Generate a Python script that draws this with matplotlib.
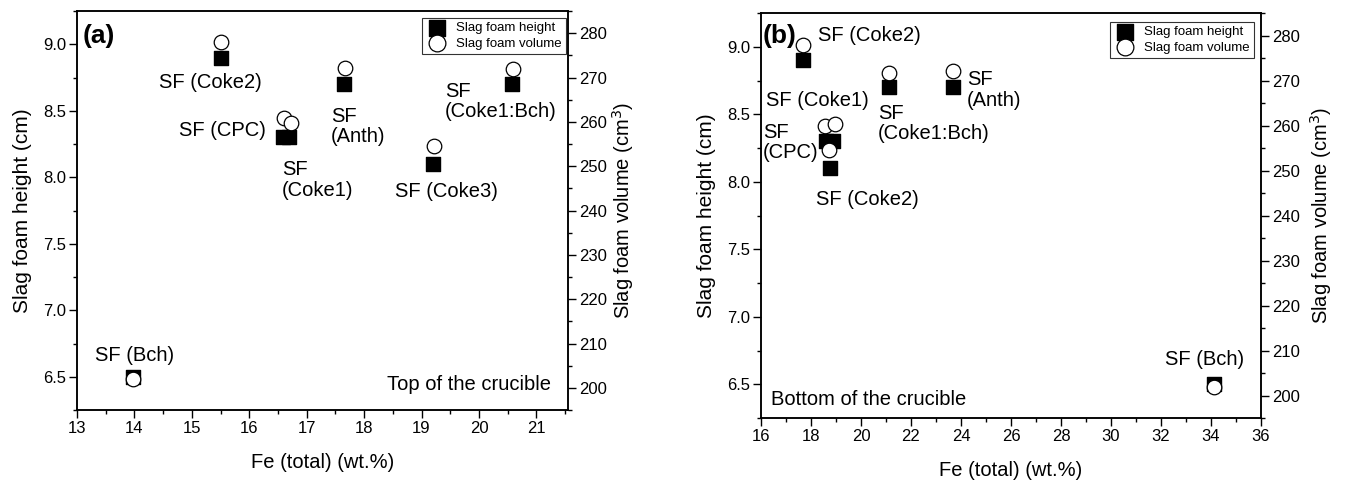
import numpy as np
import matplotlib.pyplot as plt
from matplotlib.ticker import MultipleLocator

plt.rcParams['font.family'] = ['Liberation Sans', 'DejaVu Sans']

# panel (a) - top of the crucible
a_fe_h = [13.98, 15.5, 16.58, 16.7, 17.65, 19.2, 20.58]
a_h = [6.5, 8.9, 8.3, 8.3, 8.7, 8.1, 8.7]
a_fe_v = [13.97, 15.5, 16.6, 16.72, 17.66, 19.21, 20.6]
a_v = [202.0, 278.0, 260.8, 259.8, 272.2, 254.6, 271.9]
a_labels = ["SF (Bch)", "SF (Coke2)", "SF (CPC)", "SF\n(Coke1)", "SF\n(Anth)", "SF (Coke3)", "SF\n(Coke1:Bch)"]
a_lab_x = [14.01, 15.33, 15.54, 16.57, 17.42, 19.43, 19.41]
a_lab_y = [6.66, 8.71, 8.35, 7.98, 8.38, 7.89, 8.57]
a_lab_ha = ["center", "center", "center", "left", "left", "center", "left"]

# panel (b) - bottom of the crucible
b_fe_h = [17.7, 18.6, 18.9, 18.75, 21.1, 23.7, 34.1]
b_h = [8.9, 8.3, 8.3, 8.1, 8.7, 8.7, 6.5]
b_fe_v = [17.7, 18.57, 18.96, 18.74, 21.1, 23.7, 34.1]
b_v = [278.0, 260.0, 260.4, 254.5, 271.7, 272.1, 201.8]
b_labels = ["SF (Coke2)", "SF (Coke1)", "SF\n(CPC)", "SF\n(Coke1:Bch)", "SF\n(Anth)", "SF (Coke2)", "SF (Bch)"]
b_lab_x = [18.27, 16.19, 16.07, 20.67, 24.25, 20.27, 33.76]
b_lab_y = [9.08, 8.60, 8.29, 8.43, 8.68, 7.87, 6.68]
b_lab_ha = ["left", "left", "left", "left", "left", "center", "center"]

fig = plt.figure(figsize=(13.45, 4.84), dpi=100)
W, H = 1345.0, 484.0


def panel(rect, fe_h, h, fe_v, v, labels, lx, ly, lha, xlim, xmaj, xmin, tag, note, note_xy, note_ha,
          leg_anchor, rpad):
    ax = fig.add_axes(rect)
    ax2 = ax.twinx()
    ax.scatter(fe_h, h, marker="s", s=95, color="black", zorder=3, label="Slag foam height")
    ax2.scatter(fe_v, v, marker="o", s=110, facecolor="white", edgecolor="black", linewidth=0.9,
                zorder=3, label="Slag foam volume")
    ax.set_xlim(*xlim)
    ax.set_ylim(6.25, 9.25)
    ax2.set_ylim(195, 285)
    ax.xaxis.set_major_locator(MultipleLocator(xmaj))
    ax.xaxis.set_minor_locator(MultipleLocator(xmin))
    ax.yaxis.set_major_locator(MultipleLocator(0.5))
    ax.yaxis.set_minor_locator(MultipleLocator(0.25))
    ax2.yaxis.set_major_locator(MultipleLocator(10))
    ax2.yaxis.set_minor_locator(MultipleLocator(5))
    for a in (ax, ax2):
        a.tick_params(which="major", length=5.5, width=1.0, labelsize=12, pad=2.5, direction="out")
        a.tick_params(which="minor", length=3, width=1.0, direction="out")
        for s in a.spines.values():
            s.set_linewidth(1.1)
    ax.tick_params(top=False, which="both")
    ax.set_xlabel("Fe (total) (wt.%)", fontsize=14.5, labelpad=12.5)
    ax.set_ylabel("Slag foam height (cm)", fontsize=15, labelpad=8)
    ax2.set_ylabel("Slag foam volume (cm$^3$)", fontsize=14.5, labelpad=rpad)
    for t, x, y, ha in zip(labels, lx, ly, lha):
        ax.text(x, y, t, ha=ha, va="center", fontsize=14.5, linespacing=1.1, zorder=5)
    ax.text(tag[0], tag[1], tag[2], ha="left", va="center", fontsize=19, fontweight="bold")
    ax.text(note_xy[0], note_xy[1], note, ha=note_ha, va="center", fontsize=14.5)
    hs = [ax.collections[0], ax2.collections[0]]
    leg = ax2.legend(hs, [x.get_label() for x in hs], loc="upper right", bbox_to_anchor=leg_anchor,
                     fontsize=9.5, frameon=True, fancybox=False, borderpad=0.3, handletextpad=0.7,
                     labelspacing=0.25, borderaxespad=0.0, handlelength=1.6, markerscale=1.15)
    leg.get_frame().set_edgecolor("black")
    leg.get_frame().set_linewidth(0.8)
    return ax, ax2


panel([77 / W, (H - 410) / H, 491 / W, 399 / H], a_fe_h, a_h, a_fe_v, a_v, a_labels, a_lab_x, a_lab_y,
      a_lab_ha, (13, 21.55), 1, 0.5, (13.09, 9.06, "(a)"), "Top of the crucible", (21.25, 6.44), "right",
      (0.996, 0.982), 2)
panel([761 / W, (H - 418) / H, 500 / W, 405 / H], b_fe_h, b_h, b_fe_v, b_v, b_labels, b_lab_x, b_lab_y,
      b_lab_ha, (16, 36), 2, 1, (16.05, 9.08, "(b)"), "Bottom of the crucible", (16.41, 6.39), "left",
      (0.986, 0.978), 6)

fig.savefig("out.png", dpi=100)
